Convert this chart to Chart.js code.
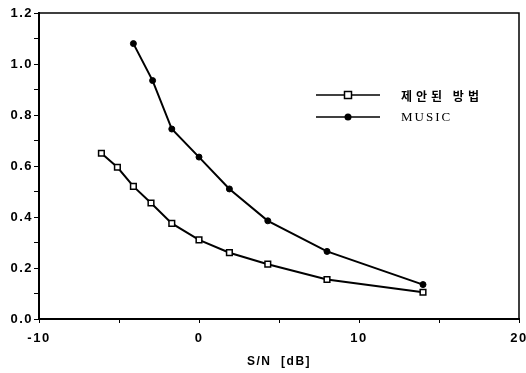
<!DOCTYPE html>
<html>
<head>
<meta charset="utf-8">
<script src="https://cdn.jsdelivr.net/npm/chart.js@4/dist/chart.umd.min.js"></script>
<style>
  html, body { margin: 0; padding: 0; background: #fff; }
  #wrap { width: 526px; height: 373px; }
</style>
</head>
<body>
<div id="wrap"><canvas id="c" width="526" height="373"></canvas></div>
<script>
// data
const snrProposed = [-6.1, -5.1, -4.1, -3.0, -1.7, 0, 1.9, 4.3, 8.0, 14.0];
const errProposed = [0.65, 0.595, 0.52, 0.455, 0.375, 0.31, 0.26, 0.215, 0.155, 0.105];
const snrMusic = [-4.1, -2.9, -1.7, 0, 1.9, 4.3, 8.0, 14.0];
const errMusic = [1.08, 0.935, 0.745, 0.635, 0.51, 0.385, 0.265, 0.135];
const seriesNames = ["제안된 방법", "MUSIC"];
const xLabeled = [-10, 0, 10, 20];

const pts = (xs, ys) => xs.map((x, i) => ({ x, y: ys[i] }));

// slightly spaced labels like the scanned figure
const spacing = {
  id: "spacing",
  beforeUpdate(chart) { chart.ctx.letterSpacing = "1.5px"; },
  beforeDraw(chart) { chart.ctx.letterSpacing = "1.5px"; },
};

// frame on top / right of the plot
const frame = {
  id: "frame",
  afterDraw(chart) {
    const { ctx, chartArea: a } = chart;
    ctx.save();
    ctx.strokeStyle = "#000";
    ctx.lineWidth = 1.5;
    ctx.beginPath();
    ctx.moveTo(a.left, a.top);
    ctx.lineTo(a.right, a.top);
    ctx.lineTo(a.right, a.bottom);
    ctx.stroke();
    ctx.restore();
  },
};

// legend drawn inside the plot, right side
const innerLegend = {
  id: "innerLegend",
  afterDatasetsDraw(chart) {
    const { ctx, chartArea: a } = chart;
    const x0 = a.left + 277, x1 = a.left + 341, tx = a.left + 362;
    const rows = [a.top + 82, a.top + 104];
    ctx.save();
    chart.data.datasets.forEach((ds, i) => {
      const y = rows[i];
      ctx.strokeStyle = "#000";
      ctx.lineWidth = 1.5;
      ctx.beginPath();
      ctx.moveTo(x0, y);
      ctx.lineTo(x1, y);
      ctx.stroke();
      const mx = (x0 + x1) / 2;
      if (ds.pointStyle === "rect") {
        ctx.fillStyle = "#fff";
        ctx.fillRect(mx - 3.5, y - 3.5, 7, 7);
        ctx.lineWidth = 1.5;
        ctx.strokeRect(mx - 3.5, y - 3.5, 7, 7);
      } else {
        ctx.fillStyle = "#000";
        ctx.beginPath();
        ctx.arc(mx, y, 3.5, 0, Math.PI * 2);
        ctx.fill();
      }
      ctx.fillStyle = "#000";
      ctx.textBaseline = "middle";
      if (i === 0) {
        ctx.font = "bold 12px 'Noto Sans CJK KR', sans-serif";
        ctx.letterSpacing = "4px";
      } else {
        ctx.font = "13px 'Liberation Serif', serif";
        ctx.letterSpacing = "2px";
      }
      ctx.fillText(ds.label, tx, y + 1);
    });
    ctx.restore();
  },
};

new Chart(document.getElementById("c"), {
  type: "line",
  data: {
    datasets: [
      {
        label: seriesNames[0],
        data: pts(snrProposed, errProposed),
        borderColor: "#000",
        borderWidth: 2,
        pointStyle: "rect",
        pointRadius: 4,
        pointBorderWidth: 1.5,
        pointBackgroundColor: "#fff",
        pointBorderColor: "#000",
        tension: 0,
      },
      {
        label: seriesNames[1],
        data: pts(snrMusic, errMusic),
        borderColor: "#000",
        borderWidth: 2,
        pointStyle: "circle",
        pointRadius: 3,
        pointBorderWidth: 1,
        pointBackgroundColor: "#000",
        pointBorderColor: "#000",
        tension: 0,
      },
    ],
  },
  options: {
    responsive: false,
    animation: false,
    layout: { padding: { left: 0, right: 7, top: 13, bottom: 0 } },
    plugins: {
      legend: { display: false },
      tooltip: { enabled: false },
    },
    scales: {
      x: {
        type: "linear",
        min: -10,
        max: 20,
        ticks: {
          stepSize: 5,
          autoSkip: false,
          maxRotation: 0,
          padding: 8,
          color: "#000",
          font: { family: "'Liberation Sans', sans-serif", size: 13, weight: "bold" },
          callback: (v) => (xLabeled.includes(v) ? String(v) : ""),
        },
        grid: { drawOnChartArea: false, drawTicks: true, tickLength: 4, color: "#000" },
        border: { display: true, color: "#000", width: 2 },
        title: {
          display: true,
          text: "S/N  [dB]",
          color: "#000",
          font: { family: "'Liberation Sans', sans-serif", size: 12, weight: "bold" },
          padding: { top: 4, bottom: 4 },
        },
        afterFit(s) {
          s.height = 54;
          s.paddingLeft = 0;
          s.paddingRight = 0;
        },
      },
      y: {
        min: 0,
        max: 1.2,
        ticks: {
          stepSize: 0.1,
          autoSkip: false,
          padding: 1,
          color: "#000",
          font: { family: "'Liberation Sans', sans-serif", size: 13, weight: "bold" },
          callback: (v) => {
            const k = Math.round(v * 10);
            return k % 2 === 0 ? (k / 10).toFixed(1) : "";
          },
        },
        grid: { drawOnChartArea: false, drawTicks: true, tickLength: 5, color: "#000" },
        border: { display: true, color: "#000", width: 2 },
        afterFit(s) {
          s.width = 39;
          s.paddingTop = 0;
          s.paddingBottom = 0;
        },
      },
    },
  },
  plugins: [spacing, frame, innerLegend],
});
</script>
</body>
</html>
